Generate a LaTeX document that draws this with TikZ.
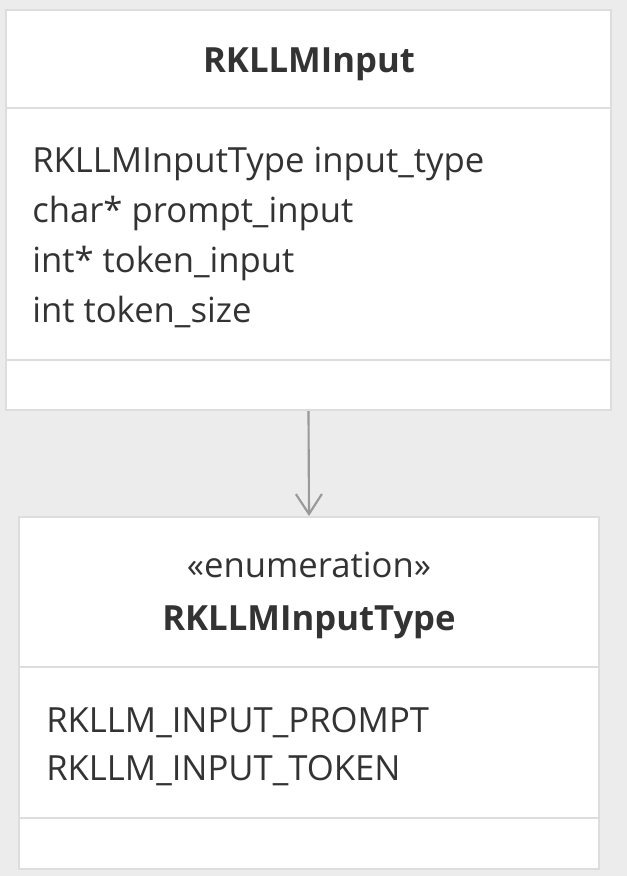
\documentclass[tikz,border=0pt]{standalone}
\usepackage{fontspec}
\setmainfont{Open Sans}
\usetikzlibrary{arrows.meta}
\definecolor{bgcol}{HTML}{ECECEC}
\definecolor{boxline}{HTML}{DDDDDD}
\definecolor{textcol}{HTML}{333333}
\definecolor{linkcol}{HTML}{999999}
\begin{document}
\begin{tikzpicture}[x=0.75pt, y=-0.75pt,
  classbox/.style = {draw=boxline, fill=white, line width=1.5pt, inner sep=0pt},
  divider/.style = {draw=boxline, line width=1.5pt},
  member/.style = {anchor=base west, inner sep=0pt, text=textcol, font=\fontsize{26}{31}\selectfont},
  classname/.style = {anchor=base, inner sep=0pt, text=textcol, font=\fontsize{26}{31}\selectfont\bfseries},
  link/.style = {draw=linkcol, line width=1.6pt, -{Straight Barb[length=15pt, width=19.5pt]}}]
            \fill[bgcol] (0,0) rectangle (627,876);
            % RKLLMInput
            \node[classbox, minimum width=453.75pt, minimum height=300pt] (input) at (308.5,210) {};
            \draw[divider] (input.west |- 0,108) -- (input.east |- 0,108);
            \draw[divider] (input.west |- 0,360) -- (input.east |- 0,360);
            \node[classname] (inputname) at (309,72) {RKLLMInput};
            \node[member] (attr1) at (32,172) {RKLLMInputType input\_type};
            \node[member] (attr2) at (32,222) {char* prompt\_input};
            \node[member] (attr3) at (32,272) {int* token\_input};
            \node[member] (attr4) at (32,322) {int token\_size};
            % RKLLMInputType
            \node[classbox, minimum width=435pt, minimum height=264pt] (type) at (309,693) {};
            \draw[divider] (type.west |- 0,667) -- (type.east |- 0,667);
            \draw[divider] (type.west |- 0,818) -- (type.east |- 0,818);
            \node[member, anchor=base] (stereo) at (309,577) {«enumeration»};
            \node[classname] (typename) at (309,630) {RKLLMInputType};
            \node[member] (val1) at (46,732) {RKLLM\_INPUT\_PROMPT};
            \node[member] (val2) at (46,780) {RKLLM\_INPUT\_TOKEN};
            \draw[link] (input.south) to (type.north);
        \end{tikzpicture}
\end{document}
